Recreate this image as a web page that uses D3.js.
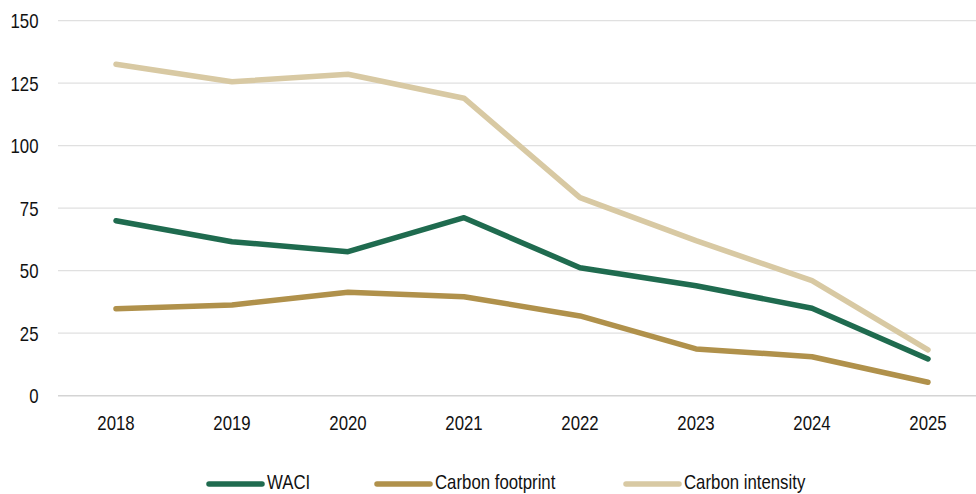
<!DOCTYPE html>
<html>
<head>
<meta charset="utf-8">
<script src="https://cdn.jsdelivr.net/npm/d3@7"></script>
<style>
  html, body { margin: 0; padding: 0; background: #fff; }
  svg { display: block; }
  text { font-family: "Liberation Sans", Arial, sans-serif; fill: #111; }
</style>
</head>
<body>
<svg id="chart" width="976" height="494"></svg>
<script>
// Chart data
const years = ["2018", "2019", "2020", "2021", "2022", "2023", "2024", "2025"];
const waci = [70, 61.6, 57.6, 71.2, 51.2, 44, 35, 14.7];
const carbonFootprint = [34.8, 36.3, 41.4, 39.6, 31.9, 18.7, 15.6, 5.4];
const carbonIntensity = [132.6, 125.6, 128.6, 119, 79.2, 62, 46, 18.3];
const yTicks = [0, 25, 50, 75, 100, 125, 150];

const seriesNames = ["WACI", "Carbon footprint", "Carbon intensity"];
const seriesValues = [waci, carbonFootprint, carbonIntensity];
const seriesColors = ["#1f6b4f", "#b0914b", "#d8c9a3"];

const svg = d3.select("#chart");
const fontSize = 20;
const squeeze = 0.84;

const x = d3.scalePoint().domain(years).range([116, 928]);
const y = d3.scaleLinear().domain([0, 150]).range([395.7, 20.7]);

// Horizontal gridlines
svg.append("g")
  .selectAll("line")
  .data(yTicks)
  .join("line")
  .attr("x1", 58).attr("x2", 976)
  .attr("y1", d => y(d)).attr("y2", d => y(d))
  .attr("stroke", d => d === 0 ? "#d4d4d4" : "#e0e0e0")
  .attr("stroke-width", d => d === 0 ? 1.6 : 1.3);

// Condensed text helper
function label(g, txt, tx, ty, anchor) {
  return g.append("text")
    .attr("transform", `translate(${tx},${ty}) scale(${squeeze},1)`)
    .attr("text-anchor", anchor)
    .attr("font-size", fontSize)
    .text(txt);
}

// Y axis labels
const yAxisG = svg.append("g");
yTicks.forEach(t => label(yAxisG, String(t), 38.5, y(t) + 7.3, "end"));

// X axis labels
const xAxisG = svg.append("g");
years.forEach(yr => label(xAxisG, yr, x(yr), 429.5, "middle"));

// Series lines (intensity drawn first so it sits behind)
const line = d3.line()
  .x((d, i) => x(years[i]))
  .y(d => y(d));

const order = [2, 1, 0];
order.forEach(k => {
  svg.append("path")
    .datum(seriesValues[k])
    .attr("fill", "none")
    .attr("stroke", seriesColors[k])
    .attr("stroke-width", 5.5)
    .attr("stroke-linecap", "round")
    .attr("stroke-linejoin", "round")
    .attr("d", line);
});

// Legend
const legendX = [207, 375, 624];
const legendY = 482;
const legend = svg.append("g");
seriesNames.forEach((name, i) => {
  legend.append("line")
    .attr("x1", legendX[i] + 2).attr("x2", legendX[i] + 55)
    .attr("y1", legendY + 2).attr("y2", legendY + 2)
    .attr("stroke", seriesColors[i])
    .attr("stroke-width", 5.5)
    .attr("stroke-linecap", "round");
  label(legend, name, legendX[i] + 60, legendY + 7.3, "start");
});
</script>
</body>
</html>
